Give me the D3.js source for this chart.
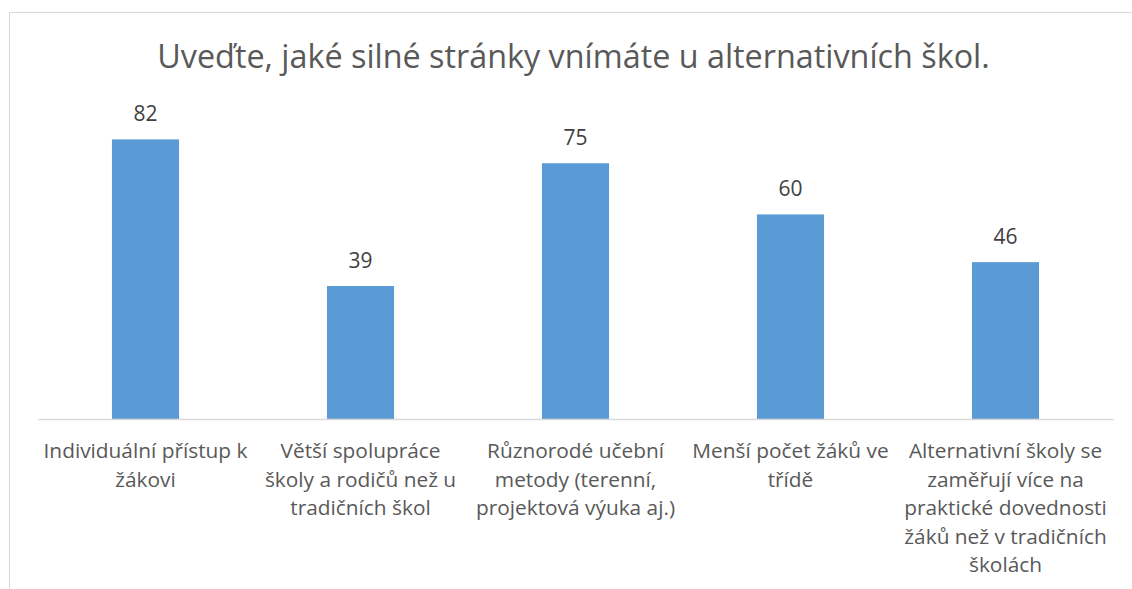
<!DOCTYPE html>
<html>
<head>
<meta charset="utf-8">
<script src="https://cdn.jsdelivr.net/npm/d3@7"></script>
<style>
  html, body { margin: 0; padding: 0; background: #ffffff; }
  svg { display: block; }
  text { font-family: "Open Sans", "Noto Sans", sans-serif; }
</style>
</head>
<body>
<svg id="chart" width="1132" height="589"></svg>
<script>
// Chart data
const title = "Uveďte, jaké silné stránky vnímáte u alternativních škol.";
const categories = [
  "Individuální přístup k\nžákovi",
  "Větší spolupráce\nškoly a rodičů než u\ntradičních škol",
  "Různorodé učební\nmetody (terenní,\nprojektová výuka aj.)",
  "Menší počet žáků ve\ntřídě",
  "Alternativní školy se\nzaměřují více na\npraktické dovednosti\nžáků než v tradičních\nškolách"
];
const values = [82, 39, 75, 60, 46];
const yDomain = [0, 100];

const svg = d3.select("#chart");
const W = 1132, H = 589;

// Outer chart frame
svg.append("rect")
  .attr("x", 9.5).attr("y", 12.5)
  .attr("width", W + 20).attr("height", H + 20)
  .attr("fill", "#ffffff")
  .attr("stroke", "#d9d9d9").attr("stroke-width", 1);

const plot = { left: 38, right: 1113, top: 78, bottom: 419 };

const x = d3.scaleBand()
  .domain(categories)
  .range([plot.left, plot.right])
  .paddingInner(0.688)
  .paddingOuter(0.344);

const y = d3.scaleLinear()
  .domain(yDomain)
  .range([plot.bottom, plot.top]);

// Fit a text element's font size so its width equals a target width
function fitWidth(sel, target) {
  const node = sel.node();
  const fs = parseFloat(sel.attr("font-size"));
  const w = node.getComputedTextLength();
  sel.attr("font-size", (fs * target / w).toFixed(2));
}

// Title
const t = svg.append("text")
  .attr("x", 573.5).attr("y", 68)
  .attr("text-anchor", "middle")
  .attr("font-size", 30)
  .attr("fill", "#595959")
  .text(title);
fitWidth(t, 833);

// Bars
svg.append("g").selectAll("rect")
  .data(values)
  .join("rect")
  .attr("x", (d, i) => x(categories[i]))
  .attr("y", d => y(d))
  .attr("width", x.bandwidth())
  .attr("height", d => y(0) - y(d))
  .attr("fill", "#5b9bd5");

// Baseline axis
const axis = svg.append("g")
  .attr("transform", `translate(0,${plot.bottom})`)
  .call(d3.axisBottom(x).tickSize(0).tickFormat(""));
axis.select(".domain").attr("stroke", "#d9d9d9").attr("stroke-width", 1.3);

// Value labels
const probe = svg.append("text").attr("font-size", 20).text("39");
const labelSize = 20 * 24 / probe.node().getComputedTextLength();
probe.remove();

svg.append("g").selectAll("text")
  .data(values)
  .join("text")
  .attr("x", (d, i) => x(categories[i]) + x.bandwidth() / 2)
  .attr("y", d => y(d) - 18)
  .attr("text-anchor", "middle")
  .attr("font-size", labelSize.toFixed(2))
  .attr("fill", "#404040")
  .text(d => d);

// Category labels (multi-line)
const probe2 = svg.append("text").attr("font-size", 20).text("Individuální přístup k");
const catSize = 20 * 204 / probe2.node().getComputedTextLength();
probe2.remove();

const lineH = 28.6;
const cat = svg.append("g").selectAll("text")
  .data(categories)
  .join("text")
  .attr("x", d => x(d) + x.bandwidth() / 2)
  .attr("y", 458)
  .attr("text-anchor", "middle")
  .attr("font-size", catSize.toFixed(2))
  .attr("fill", "#595959");
cat.each(function (d) {
  const el = d3.select(this);
  d.split("\n").forEach((line, i) => {
    el.append("tspan")
      .attr("x", el.attr("x"))
      .attr("dy", i === 0 ? 0 : lineH)
      .text(line);
  });
});
</script>
</body>
</html>
